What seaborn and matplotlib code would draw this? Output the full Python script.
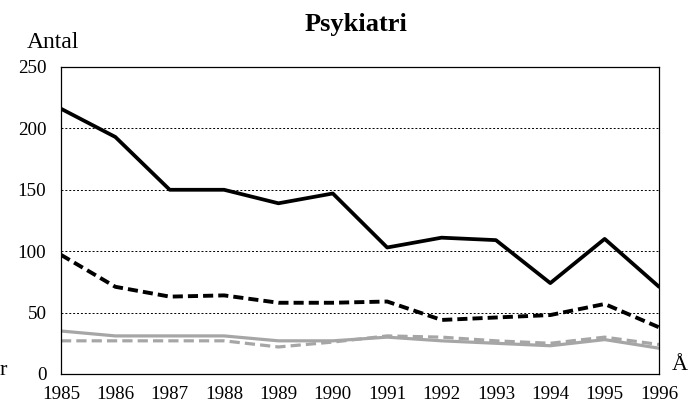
import pandas as pd
import numpy as np
import matplotlib.pyplot as plt
import seaborn as sns

# Data
years = [1985, 1986, 1987, 1988, 1989, 1990, 1991, 1992, 1993, 1994, 1995, 1996]
black_solid = [216, 193, 150, 150, 139, 147, 103, 111, 109, 74, 110, 71]
black_dashed = [97, 71, 63, 64, 58, 58, 59, 44, 46, 48, 57, 38]
gray_solid = [35, 31, 31, 31, 27, 27, 30, 27, 25, 23, 28, 21]
gray_dashed = [27, 27, 27, 27, 22, 26, 31, 30, 27, 25, 30, 24]
y_ticks = [0, 50, 100, 150, 200, 250]

sns.set_theme(style="white")
plt.rcParams['font.family'] = ['Liberation Serif', 'DejaVu Serif']
plt.rcParams['text.color'] = 'black'

fig = plt.figure(figsize=(6.89, 4.04), dpi=100)
ax = fig.add_axes([0.0885, 0.0743, 0.868, 0.7599])

gray = '#a6a6a6'
sns.lineplot(x=years, y=gray_solid, ax=ax, color=gray, linewidth=2.3)
sns.lineplot(x=years, y=gray_dashed, ax=ax, color=gray, linewidth=2.3,
             linestyle=(0, (3.2, 1.6)))
sns.lineplot(x=years, y=black_dashed, ax=ax, color='black', linewidth=2.8,
             linestyle=(0, (2.6, 1.3)))
sns.lineplot(x=years, y=black_solid, ax=ax, color='black', linewidth=2.7)

ax.set_xlim(1985, 1996)
ax.set_ylim(0, 250)
ax.set_xticks(years)
ax.set_yticks(y_ticks)
for v in y_ticks[1:-1]:
    ax.axhline(v, color='black', linewidth=0.7, linestyle=(0, (2, 2)), zorder=0)

for side in ['left', 'bottom', 'top', 'right']:
    ax.spines[side].set_visible(True)
    ax.spines[side].set_color('black')
    ax.spines[side].set_linewidth(0.9)

ax.tick_params(axis='both', direction='out', length=2.5, width=0.8,
               labelsize=13.7, colors='black')
ax.tick_params(axis='x', pad=6.5)
ax.tick_params(axis='y', pad=8)
ax.set_xlabel('')
ax.set_ylabel('')

fig.text(0.517, 0.923, 'Psykiatri', ha='center', va='baseline',
         fontsize=19, fontweight='bold', color='black')
fig.text(0.039, 0.881, 'Antal', ha='left', va='baseline', fontsize=17)
fig.text(0.0, 0.072, 'r', ha='left', va='baseline', fontsize=16)
fig.text(0.975, 0.084, 'Å', ha='left', va='baseline', fontsize=16)

plt.savefig('out.png', dpi=100)
